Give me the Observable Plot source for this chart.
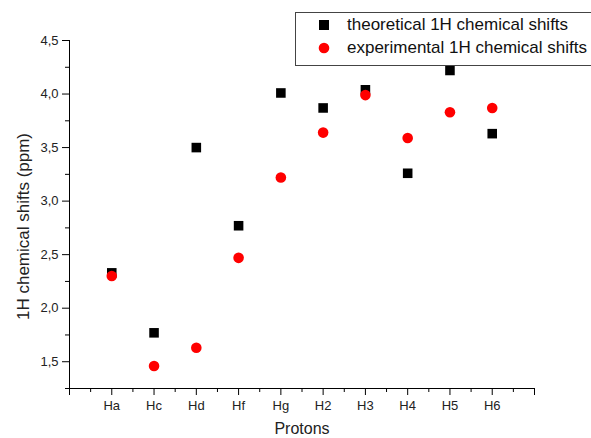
<!DOCTYPE html>
<html><head><meta charset="utf-8">
<script src="https://cdn.jsdelivr.net/npm/d3@7"></script>
<script src="https://cdn.jsdelivr.net/npm/@observablehq/plot@0.6"></script>
<style>
html,body{margin:0;padding:0;background:#fff;overflow:hidden;width:591px;height:438px}
#wrap{position:relative;width:591px;height:438px;font-family:"Liberation Sans",Arial,sans-serif}
#legend{position:absolute;left:295px;top:12px;width:330px;height:54px;border:1px solid #444;background:#fff;box-sizing:border-box}
.item{position:absolute;left:0;height:20px;font-size:17px;color:#111;white-space:nowrap}
.item svg{position:absolute;left:17px;top:0}
.item span{position:absolute;left:51px;top:0;line-height:20px}
</style></head>
<body><div id="wrap"></div>
<script>
const protons = ["Ha","Hc","Hd","Hf","Hg","H2","H3","H4","H5","H6"];
const theoretical = [2.33,1.77,3.50,2.77,4.01,3.87,4.04,3.26,4.22,3.63];
const experimental = [2.30,1.46,1.63,2.47,3.22,3.64,3.99,3.59,3.83,3.87];
const yMajor = [1.5,2.0,2.5,3.0,3.5,4.0,4.5];
const yMinor = [1.25,1.75,2.25,2.75,3.25,3.75,4.25];
const seriesNames = ["theoretical 1H chemical shifts","experimental 1H chemical shifts"];
const seriesColors = ["#000000","#ff0000"];
const xTitle = "Protons";
const yTitle = "1H chemical shifts (ppm)";

const xMajor = d3.range(0, protons.length + 2, 1);
const xMinor = d3.range(0.5, protons.length + 1, 1);
const xLabel = d => (Number.isInteger(d) && d >= 1 && d <= protons.length) ? protons[d - 1] : "";

const chart = Plot.plot({
  width: 591, height: 438,
  marginLeft: 69, marginRight: 57, marginTop: 40, marginBottom: 50,
  style: {fontFamily: '"Liberation Sans", Arial, sans-serif', fontSize: "13px", color: "#222", background: "white", overflow: "visible"},
  x: {type: "linear", domain: [0, protons.length + 1]},
  y: {domain: [1.25, 4.5]},
  marks: [
    Plot.axisX({ticks: xMajor, tickSize: 7, tickPadding: 5, tickFormat: xLabel, label: null, stroke: "#000", fill: "#222"}),
    Plot.axisX({ticks: xMinor, tickSize: 4, tickFormat: () => "", label: null, stroke: "#000"}),
    Plot.axisY({ticks: yMajor, tickSize: 7, tickPadding: 4, tickFormat: d => d.toFixed(1).replace(".", ","), label: null, stroke: "#000", fill: "#222"}),
    Plot.axisY({ticks: yMinor, tickSize: 4, tickFormat: () => "", label: null, stroke: "#000"}),
    Plot.ruleY([1.25], {stroke: "#000"}),
    Plot.ruleX([0], {stroke: "#000"}),
    Plot.dot(theoretical, {x: (d, i) => i + 1, y: d => d, symbol: "square", r: 5.4, fill: seriesColors[0], stroke: "none"}),
    Plot.dot(experimental, {x: (d, i) => i + 1, y: d => d, symbol: "circle", r: 5.3, fill: seriesColors[1], stroke: "none"}),
    Plot.text([yTitle], {frameAnchor: "left", textAnchor: "middle", rotate: -90, dx: -46, dy: 12, fontSize: 17, fill: "#222"}),
    Plot.text([xTitle], {frameAnchor: "bottom", dy: 45, fontSize: 16, fill: "#222"})
  ]
});
const wrap = document.getElementById("wrap");
wrap.appendChild(chart);

const legend = document.createElement("div");
legend.id = "legend";
const symbols = ["square", "circle"];
seriesNames.forEach((name, i) => {
  const item = document.createElement("div");
  item.className = "item";
  item.style.top = (2 + i * 23) + "px";
  const s = symbols[i] === "square"
    ? `<svg width="22" height="20"><rect x="6" y="5" width="10" height="10" fill="${seriesColors[i]}"/></svg>`
    : `<svg width="22" height="20"><circle cx="11" cy="10" r="5.3" fill="${seriesColors[i]}"/></svg>`;
  item.innerHTML = s + `<span>${name}</span>`;
  legend.appendChild(item);
});
wrap.appendChild(legend);
</script>
</body></html>
